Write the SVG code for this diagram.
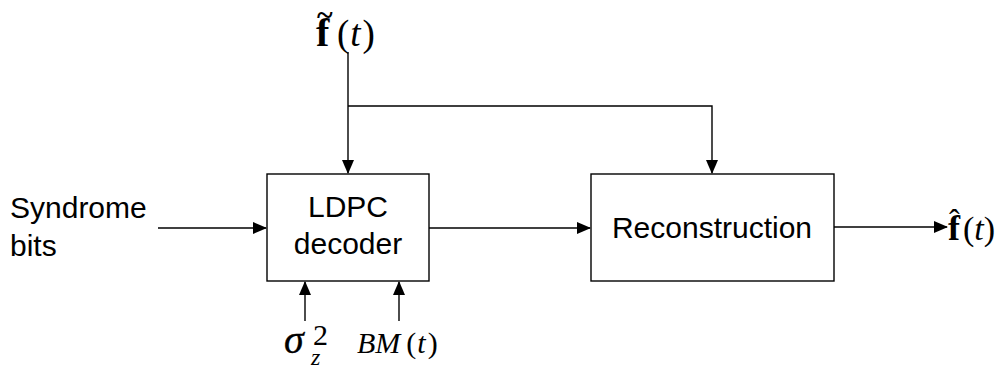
<svg xmlns="http://www.w3.org/2000/svg" width="1001" height="368" viewBox="0 0 1001 368">
<style>
.box{fill:#fff;stroke:#000;stroke-width:1.4}
.ln{fill:none;stroke:#000;stroke-width:1.4}
.lbl{font-family:"Liberation Sans",Arial,sans-serif;font-size:30px;fill:#000}
.m{font-family:"Liberation Serif","Times New Roman",serif;fill:#000}
</style>
<defs>
<marker id="ah" markerWidth="14" markerHeight="12" refX="13" refY="6" orient="auto" markerUnits="userSpaceOnUse">
<path d="M0,0 L14,6 L0,12 Z" fill="#000"/>
</marker>
</defs>
<rect width="1001" height="368" fill="#fff"/>
<g id="connectors">
<line class="ln" x1="348" y1="52" x2="348" y2="173" marker-end="url(#ah)"/>
<polyline class="ln" points="348,106 712,106 712,173" marker-end="url(#ah)"/>
<line class="ln" x1="158" y1="228" x2="266" y2="228" marker-end="url(#ah)"/>
<line class="ln" x1="429" y1="228" x2="590" y2="228" marker-end="url(#ah)"/>
<line class="ln" x1="834" y1="227" x2="947" y2="227" marker-end="url(#ah)"/>
<line class="ln" x1="305" y1="321" x2="305" y2="282" marker-end="url(#ah)"/>
<line class="ln" x1="399" y1="321" x2="399" y2="282" marker-end="url(#ah)"/>
</g>
<g id="ldpc">
<rect class="box" x="267" y="174" width="162" height="107"/>
<text class="lbl" x="348" y="217" text-anchor="middle">LDPC</text>
<text class="lbl" x="348" y="254" text-anchor="middle">decoder</text>
</g>
<g id="reconstruction">
<rect class="box" x="591" y="174" width="243" height="107"/>
<text class="lbl" x="712" y="238" text-anchor="middle">Reconstruction</text>
</g>
<g id="syndrome">
<text class="lbl" x="10" y="218">Syndrome</text>
<text class="lbl" x="10" y="256">bits</text>
</g>
<g id="ftilde">
<text class="m" x="316" y="46" font-size="40" font-weight="bold">f</text>
<text class="m" x="317" y="25" font-size="30" font-weight="bold">~</text>
<text class="m" x="337" y="46" font-size="37">(<tspan font-style="italic" dx="1">t</tspan><tspan dx="2">)</tspan></text>
</g>
<g id="fhat">
<text class="m" x="948" y="240" font-size="36" font-weight="bold">f</text>
<text class="m" x="949" y="231" font-size="32">ˆ</text>
<text class="m" x="963" y="240" font-size="34">(<tspan font-style="italic">t</tspan>)</text>
</g>
<g id="sigma">
<text class="m" x="284" y="353" font-size="40" font-style="italic" stroke="#000" stroke-width="0.3">σ</text>
<text class="m" x="313" y="345" font-size="30">2</text>
<text class="m" x="311" y="365" font-size="24" font-style="italic">z</text>
</g>
<g id="bm">
<text class="m" x="357" y="353" font-size="30"><tspan font-style="italic">BM</tspan><tspan dx="6">(</tspan><tspan font-style="italic" dx="1">t</tspan><tspan dx="2">)</tspan></text>
</g>
</svg>
